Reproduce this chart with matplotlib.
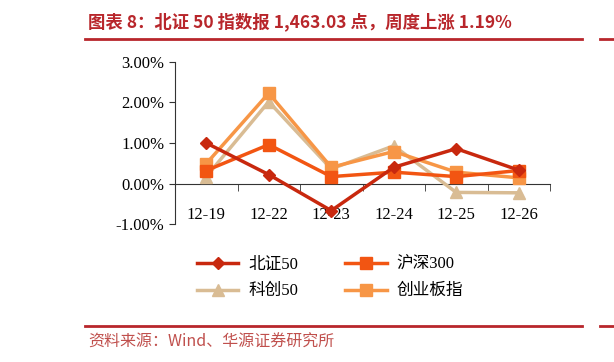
import matplotlib
matplotlib.use('Agg')
from matplotlib import pyplot as plt
from matplotlib.lines import Line2D
from matplotlib.ticker import FuncFormatter, FixedLocator

plt.rcParams['font.family'] = ['Noto Sans CJK SC', 'DejaVu Sans']

dates = ['12-19', '12-22', '12-23', '12-24', '12-25', '12-26']
bz50 = [1.00, 0.22, -0.67, 0.40, 0.86, 0.33]
hs300 = [0.32, 0.96, 0.17, 0.28, 0.17, 0.32]
kc50 = [0.17, 2.02, 0.36, 0.93, -0.22, -0.23]
cybz = [0.49, 2.23, 0.40, 0.79, 0.28, 0.14]
names = ['北证50', '沪深300', '科创50', '创业板指']

red = '#B8262B'
fig = plt.figure(figsize=(6.14, 3.62), dpi=100)
ax = fig.add_axes([175/614, 1-224/362, 375/614, 162/362])

x = list(range(len(dates)))
ax.plot(x, kc50, color='#D9BC94', lw=2.5, marker='^', ms=8, zorder=3)
ax.plot(x, cybz, color='#F79646', lw=2.5, marker='s', ms=8, zorder=4)
ax.plot(x, hs300, color='#F25512', lw=2.5, marker='s', ms=8, zorder=5)
ax.plot(x, bz50, color='#C8280E', lw=2.5, marker='D', ms=6, zorder=6)

ax.set_xlim(-0.5, 5.5)
ax.set_ylim(-1, 3)
ax.set_yticks([-1, 0, 1, 2, 3])
ax.yaxis.set_major_formatter(FuncFormatter(lambda v, p: '%.2f%%' % v))
for s in ['top', 'right']:
    ax.spines[s].set_visible(False)
ax.spines['bottom'].set_position(('data', 0))
ax.spines['left'].set_color('#333333')
ax.spines['bottom'].set_color('#333333')

ax.set_xticks(x)
ax.set_xticklabels(dates)
ax.xaxis.set_minor_locator(FixedLocator([0.5, 1.5, 2.5, 3.5, 4.5, 5.5]))
ax.tick_params(axis='x', which='major', length=0, pad=17)
ax.tick_params(axis='x', which='minor', length=5, direction='out', color='#333333')
ax.tick_params(axis='y', length=4, direction='out', color='#333333')
for lab in ax.get_xticklabels() + ax.get_yticklabels():
    lab.set_fontfamily(['Liberation Serif'])
    lab.set_fontsize(12)

h_bz = Line2D([], [], color='#C8280E', lw=2.5, marker='D', ms=6)
h_hs = Line2D([], [], color='#F25512', lw=2.5, marker='s', ms=8)
h_kc = Line2D([], [], color='#D9BC94', lw=2.5, marker='^', ms=8)
h_cy = Line2D([], [], color='#F79646', lw=2.5, marker='s', ms=8)
# ncol=2 fills column by column
leg = fig.legend([h_bz, h_kc, h_hs, h_cy], [names[0], names[2], names[1], names[3]],
                 loc='center', bbox_to_anchor=(330/614, 1-278/362),
                 ncol=2, frameon=False, handlelength=2.5,
                 columnspacing=2.8, labelspacing=0.65, handletextpad=0.6,
                 prop={'family': ['Liberation Serif', 'Noto Sans CJK SC'], 'size': 12})

fig.text(88/614, 1-22/362, '图表 8：北证 50 指数报 1,463.03 点，周度上涨 1.19%',
         color=red, fontsize=12.5, fontweight='bold', va='center', ha='left')
fig.add_artist(Line2D([85/614, 582/614], [1-39/362, 1-39/362], color=red, lw=2))
fig.add_artist(Line2D([600/614, 614/614], [1-39/362, 1-39/362], color=red, lw=2))
fig.add_artist(Line2D([85/614, 582/614], [1-326/362, 1-326/362], color=red, lw=2))
fig.add_artist(Line2D([600/614, 614/614], [1-326/362, 1-326/362], color=red, lw=2))
fig.text(88/614, 1-342/362, '资料来源：Wind、华源证券研究所',
         color='#C0504D', fontsize=11.5, va='center', ha='left')

fig.savefig('out.png', dpi=100)
